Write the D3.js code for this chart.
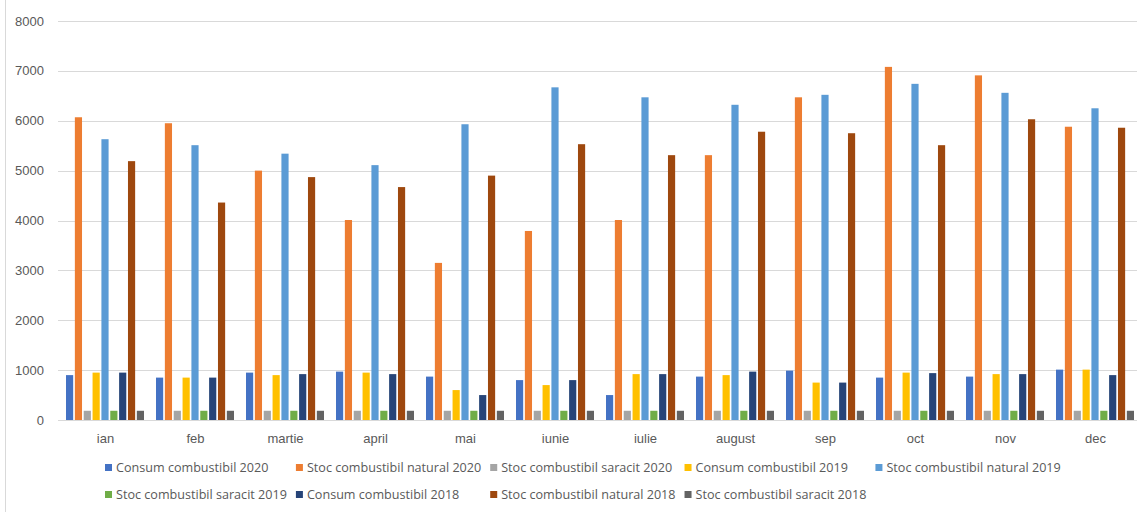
<!DOCTYPE html>
<html>
<head>
<meta charset="utf-8">
<script src="https://cdn.jsdelivr.net/npm/d3@7"></script>
<style>
  body { margin: 0; background: #fff; }
  svg { display: block; font-family: "Liberation Sans", "DejaVu Sans", sans-serif; }
</style>
</head>
<body>
<svg id="chart" width="1137" height="512"></svg>
<script>
var months = ["ian", "feb", "martie", "april", "mai", "iunie", "iulie", "august", "sep", "oct", "nov", "dec"];

var seriesNames = [
    "Consum combustibil 2020",
    "Stoc combustibil natural 2020",
    "Stoc combustibil saracit 2020",
    "Consum combustibil 2019",
    "Stoc combustibil natural 2019",
    "Stoc combustibil saracit 2019",
    "Consum combustibil 2018",
    "Stoc combustibil natural 2018",
    "Stoc combustibil saracit 2018"
];

var seriesColors = ["#4472C4", "#ED7D31", "#A5A5A5", "#FFC000", "#5B9BD5", "#70AD47", "#264478", "#9E480E", "#636363"];

var consum2020 = [900, 850, 950, 970, 870, 800, 500, 870, 990, 850, 870, 1010];
var natural2020 = [6070, 5950, 5000, 4010, 3150, 3790, 4010, 5310, 6470, 7080, 6910, 5880];
var saracit2020 = [185, 185, 185, 185, 185, 185, 185, 185, 185, 185, 185, 185];
var consum2019 = [950, 850, 900, 950, 600, 700, 920, 900, 750, 950, 920, 1010];
var natural2019 = [5630, 5510, 5340, 5110, 5930, 6670, 6470, 6320, 6520, 6740, 6560, 6250];
var saracit2019 = [185, 185, 185, 185, 185, 185, 185, 185, 185, 185, 185, 185];
var consum2018 = [950, 850, 920, 920, 500, 800, 920, 970, 750, 940, 920, 900];
var natural2018 = [5190, 4360, 4870, 4670, 4900, 5530, 5310, 5780, 5750, 5510, 6030, 5860];
var saracit2018 = [185, 185, 185, 185, 185, 185, 185, 185, 185, 185, 185, 185];

var yTicks = [0, 1000, 2000, 3000, 4000, 5000, 6000, 7000, 8000];

var allSeries = [consum2020, natural2020, saracit2020, consum2019, natural2019, saracit2019, consum2018, natural2018, saracit2018];

var rows = months.map(function (m, i) {
    return {
        month: m,
        values: allSeries.map(function (s, j) { return { key: seriesNames[j], value: s[i] }; })
    };
});

var svg = d3.select("#chart");
var width = 1137, height = 512;

// outer chart border
svg.append("rect")
    .attr("x", 5.5).attr("y", -2)
    .attr("width", width + 10).attr("height", height + 10)
    .attr("fill", "none")
    .attr("stroke", "#d9d9d9");

var x0 = d3.scaleBand()
    .domain(months)
    .range([60, 1140])
    .paddingInner(12 / 90)
    .paddingOuter(6 / 90);

var x1 = d3.scaleBand()
    .domain(seriesNames)
    .range([0, x0.bandwidth()])
    .paddingInner(0.19);

var y = d3.scaleLinear()
    .domain([0, 8000])
    .range([420, 21]);

// gridlines
svg.append("g")
    .selectAll("line")
    .data(yTicks)
    .enter().append("line")
    .attr("x1", 58)
    .attr("x2", width)
    .attr("y1", function (d) { return Math.round(y(d)) + 0.5; })
    .attr("y2", function (d) { return Math.round(y(d)) + 0.5; })
    .attr("stroke", "#d9d9d9")
    .attr("stroke-width", 1);

// y labels
svg.append("g")
    .selectAll("text")
    .data(yTicks)
    .enter().append("text")
    .attr("x", 44)
    .attr("y", function (d) { return y(d) + 4.5; })
    .attr("text-anchor", "end")
    .attr("font-size", 13)
    .attr("fill", "#595959")
    .text(function (d) { return d; });

// bars
var groups = svg.append("g")
    .selectAll("g")
    .data(rows)
    .enter().append("g")
    .attr("transform", function (d) { return "translate(" + x0(d.month) + ",0)"; });

groups.selectAll("rect")
    .data(function (d) { return d.values; })
    .enter().append("rect")
    .attr("x", function (d) { return x1(d.key); })
    .attr("width", x1.bandwidth())
    .attr("y", function (d) { return y(d.value); })
    .attr("height", function (d) { return y(0) - y(d.value); })
    .attr("fill", function (d, i) { return seriesColors[i]; });

// x labels
svg.append("g")
    .selectAll("text")
    .data(months)
    .enter().append("text")
    .attr("x", function (d) { return x0(d) + x0.bandwidth() / 2 + 0.5; })
    .attr("y", 443)
    .attr("text-anchor", "middle")
    .attr("font-size", 13)
    .attr("fill", "#595959")
    .text(function (d) { return d; });

// legend: 5 columns, each as wide as its longest label
var legend = svg.append("g")
    .selectAll("g")
    .data(seriesNames)
    .enter().append("g");

legend.append("rect")
    .attr("x", 0)
    .attr("y", -6)
    .attr("width", 7)
    .attr("height", 7)
    .attr("fill", function (d, i) { return seriesColors[i]; });

legend.append("text")
    .attr("x", 11)
    .attr("y", 1.5)
    .attr("font-family", "'Open Sans', sans-serif")
    .attr("font-size", 12.6)
    .attr("fill", "#595959")
    .text(function (d) { return d; });

var colW = [0, 0, 0, 0, 0];
legend.each(function (d, i) {
    var w = d3.select(this).select("text").node().getComputedTextLength() + 11;
    colW[i % 5] = Math.max(colW[i % 5], w);
});
var colX = [105];
for (var c = 1; c < 5; c++) colX.push(colX[c - 1] + colW[c - 1] + 9);

legend.attr("transform", function (d, i) {
    return "translate(" + colX[i % 5] + "," + (470 + Math.floor(i / 5) * 27) + ")";
});
</script>
</body>
</html>
